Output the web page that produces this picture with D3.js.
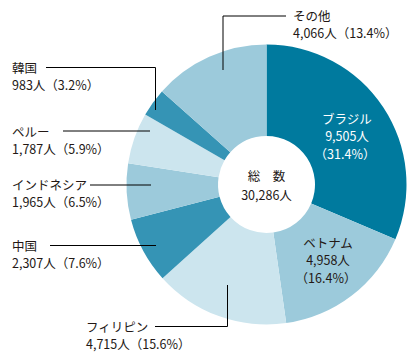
<!DOCTYPE html>
<html>
<head>
<meta charset="utf-8">
<script src="https://cdn.jsdelivr.net/npm/d3@7"></script>
<style>
  body { margin: 0; background: #fff; }
  svg text { font-family: "Noto Sans CJK JP", sans-serif; font-size: 12.5px; fill: #231815; }
</style>
</head>
<body>
<div class="pie-chart"></div>
<script>
var names = ['ブラジル', 'ベトナム', 'フィリピン', '中国', 'インドネシア', 'ペルー', '韓国', 'その他'];
var counts = [9505, 4958, 4715, 2307, 1965, 1787, 983, 4066];
var shares = ['31.4', '16.4', '15.6', '7.6', '6.5', '5.9', '3.2', '13.4'];
var colours = ['#007a9e', '#9ccadb', '#cce5ee', '#3594b5', '#9ccadb', '#cce5ee', '#3594b5', '#9ccadb'];
var total = 30286;

var data = names.map(function (n, i) {
    return { name: n, count: counts[i], share: shares[i], colour: colours[i] };
});

var cx = 266.5, cy = 184.5;
var outer = 140, inner = 48.5;
var fmt = d3.format(',');

var svg = d3.select('.pie-chart')
    .append('svg')
    .attr('width', 413)
    .attr('height', 358);

var g = svg.append('g').attr('transform', 'translate(' + cx + ',' + cy + ')');

var pie = d3.pie().sort(null).value(function (d) { return d.count; });
var arc = d3.arc().innerRadius(inner).outerRadius(outer);

g.selectAll('path').data(pie(data)).enter()
    .append('path')
    .attr('d', arc)
    .attr('fill', function (d) { return d.data.colour; });

// centre label
g.append('text').attr('text-anchor', 'middle').attr('y', -4).text('総　数');
g.append('text').attr('text-anchor', 'middle').attr('y', 15).text(fmt(total) + '人');

// labels inside the two big slices
var insideLabels = { 'ブラジル': [80.5, -61], 'ベトナム': [61.5, 63] };
Object.keys(insideLabels).forEach(function (k) {
    var d = data[names.indexOf(k)];
    var p = insideLabels[k];
    var t = g.append('text').attr('text-anchor', 'middle')
        .attr('fill', k === 'ブラジル' ? '#fff' : '#231815')
        .style('fill', k === 'ブラジル' ? '#fff' : '#231815');
    [d.name, fmt(d.count) + '人', '（' + d.share + '%）'].forEach(function (s, i) {
        t.append('tspan').attr('x', p[0] + (i === 2 ? -2 : 0)).attr('y', p[1] + i * 17.5).text(s);
    });
});

// outside labels with leader lines (layout: text position, line path)
var outside = [
    { name: 'その他', x: 293, y: 21, line: [[286, 16], [223, 16], [223, 70]] },
    { name: '韓国', x: 12, y: 73, line: [[46, 67.5], [155.5, 67.5], [155.5, 110]] },
    { name: 'ペルー', x: 12, y: 137, line: [[63, 131], [150, 131]] },
    { name: 'インドネシア', x: 12, y: 190, line: [[90, 185], [151, 185]] },
    { name: '中国', x: 12, y: 251, line: [[50, 245.5], [156, 245.5]] },
    { name: 'フィリピン', x: 86, y: 332, line: [[155, 326.5], [227.5, 326.5], [227.5, 285]] }
];

outside.forEach(function (o) {
    var d = data[names.indexOf(o.name)];
    svg.append('path')
        .attr('d', d3.line()(o.line))
        .attr('fill', 'none')
        .attr('stroke', '#000')
        .attr('stroke-width', 1);
    var t = svg.append('text');
    t.append('tspan').attr('x', o.x).attr('y', o.y).text(d.name);
    t.append('tspan').attr('x', o.x).attr('y', o.y + 17).text(fmt(d.count) + '人（' + d.share + '%）');
});
</script>
</body>
</html>
